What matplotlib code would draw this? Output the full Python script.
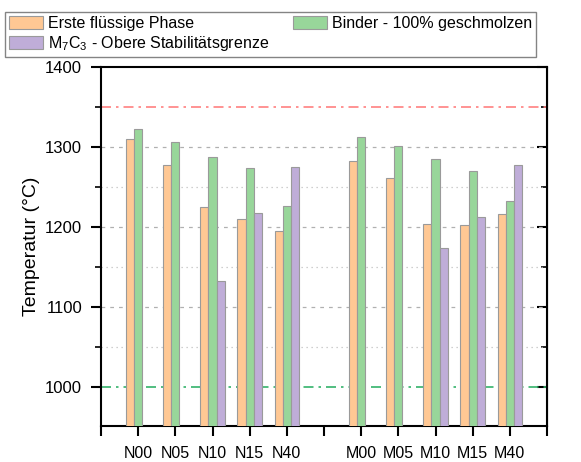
import matplotlib
matplotlib.use('Agg')
import matplotlib.pyplot as plt
from matplotlib.ticker import MultipleLocator

plt.rcParams['font.family'] = ['Liberation Sans', 'DejaVu Sans']
plt.rcParams['mathtext.fontset'] = 'custom'
plt.rcParams['mathtext.rm'] = 'Liberation Sans'
plt.rcParams['mathtext.it'] = 'Liberation Sans'

samples = ['N00', 'N05', 'N10', 'N15', 'N40', '', 'M00', 'M05', 'M10', 'M15', 'M40']
positions = [1, 2, 3, 4, 5, 6, 7, 8, 9, 10, 11]
erste = [1310, 1277, 1225, 1210, 1195, None, 1283, 1261, 1204, 1202, 1216]
binder = [1322, 1306, 1288, 1274, 1226, None, 1312, 1301, 1285, 1270, 1233]
m7c3 = [None, None, 1132, 1218, 1275, None, None, None, 1173, 1212, 1278]

c_orange = '#ffc894'
c_green = '#98d69a'
c_purple = '#bfadd8'
edge = '#9a9a9a'
w = 0.22

fig = plt.figure(figsize=(5.81, 4.62), dpi=100)
ax = fig.add_axes([101/581, 1-426/462, 446/581, 359/462])

def bars(vals, off, col, lab):
    xs = [p + off for p, v in zip(positions, vals) if v is not None]
    ys = [v for v in vals if v is not None]
    return ax.bar(xs, ys, width=w, color=col, edgecolor=edge, linewidth=0.8, label=lab, zorder=3)

b1 = bars(erste, -w, c_orange, 'Erste flüssige Phase')
b2 = bars(binder, 0, c_green, 'Binder - 100% geschmolzen')
b3 = bars(m7c3, w, c_purple, 'M$_7$C$_3$ - Obere Stabilitätsgrenze')

ax.axhline(1350, color='#ff8080', lw=1.2, ls=(0, (6, 3, 1.5, 3)), zorder=2)
ax.axhline(1000, color='#33b36b', lw=1.2, ls=(0, (6, 3, 1.5, 3)), zorder=2)
for y in [1100, 1200, 1300]:
    ax.axhline(y, color='#b0b0b0', lw=0.9, ls=(0, (3, 4)), zorder=1)
for y in [1050, 1150, 1250]:
    ax.axhline(y, color='#c0c0c0', lw=0.9, ls=(0, (1, 3)), zorder=1)

ax.set_xlim(0, 12)
ax.set_ylim(951, 1400)
ax.set_xticks(range(13))
ax.set_xticklabels([''] + samples + [''])
ax.yaxis.set_major_locator(MultipleLocator(100))
ax.yaxis.set_minor_locator(MultipleLocator(50))
ax.tick_params(axis='both', which='major', direction='out', length=7.5, width=1.5, labelsize=12)
ax.tick_params(axis='y', which='major', pad=6)
ax.tick_params(axis='x', which='major', pad=7, labelsize=11.5)
ax.tick_params(axis='y', which='minor', direction='out', length=4, width=1.2)
ax.set_ylabel('Temperatur (°C)', fontsize=14, labelpad=4)
for s in ax.spines.values():
    s.set_linewidth(1.5)

sec = ax.secondary_yaxis('right')
sec.yaxis.set_major_locator(MultipleLocator(100))
sec.yaxis.set_minor_locator(MultipleLocator(50))
sec.tick_params(axis='y', which='major', direction='in', length=7.5, width=1.5, labelright=False)
sec.tick_params(axis='y', which='minor', direction='in', length=4, width=1.2)

leg = fig.legend(handles=[b1, b3, b2], loc='upper left', bbox_to_anchor=(5/581, 1-12/462),
                 ncol=2, fontsize=11.5, frameon=True, fancybox=False, edgecolor='#666666',
                 handlelength=2.1, handleheight=0.9, columnspacing=1.5, borderaxespad=0,
                 handletextpad=0.33, labelspacing=0.2, borderpad=0.25)
leg.get_frame().set_linewidth(1.0)

fig.savefig('out.png', dpi=100)
